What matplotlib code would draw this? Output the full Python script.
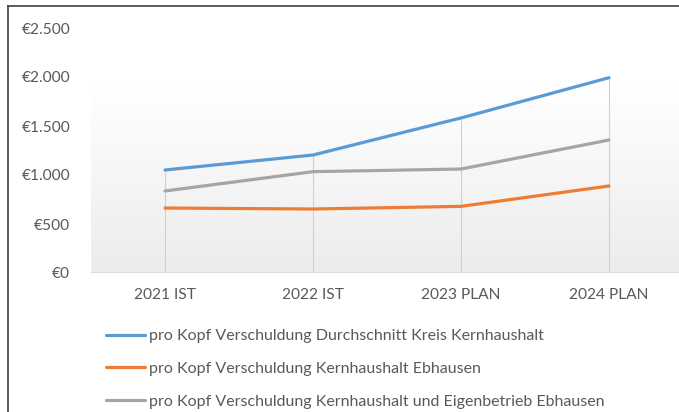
import matplotlib.pyplot as plt
import numpy as np
from matplotlib.lines import Line2D

categories = ['2021 IST', '2022 IST', '2023 PLAN', '2024 PLAN']
kreis = [1051, 1204, 1582, 1993]
kern_ebh = [663, 653, 680, 888]
kern_eigen_ebh = [837, 1034, 1061, 1357]
labels = ['pro Kopf Verschuldung Durchschnitt Kreis Kernhaushalt',
          'pro Kopf Verschuldung Kernhaushalt Ebhausen',
          'pro Kopf Verschuldung Kernhaushalt und Eigenbetrieb Ebhausen']
yticks = [0, 500, 1000, 1500, 2000, 2500]
ytick_labels = ['€0', '€500', '€1.000', '€1.500', '€2.000', '€2.500']

plt.rcParams['font.family'] = ['Lato', 'DejaVu Sans']
txt = '#595959'
fs = 11.2

fig = plt.figure(figsize=(6.79, 4.12), dpi=100)
ax = fig.add_axes([91 / 679, 139 / 412, 592 / 679, 245 / 412])
ax.set_xlim(-0.5, 3.5)
ax.set_ylim(0, 2500)
ax.patch.set_visible(False)
for s in ax.spines.values():
    s.set_visible(False)

# gradient plot area
grad = np.linspace(0, 1, 100).reshape(-1, 1)
ax.imshow(grad, cmap=plt.matplotlib.colors.LinearSegmentedColormap.from_list('g', ['#ffffff', '#ececec']),
          extent=(-0.5, 3.5, 0, 1918), aspect='auto', origin='upper', zorder=0)

x = np.arange(len(categories))
tops = np.max([kreis, kern_ebh, kern_eigen_ebh], axis=0)
ax.vlines(x, 0, tops, color='#d0d0d0', lw=0.8, zorder=1)
ax.axhline(0, color='#d9d9d9', lw=1.2, zorder=1)

colors = ['#5b9bd5', '#ed7d31', '#a5a5a5']
for vals, c, lab in zip([kreis, kern_ebh, kern_eigen_ebh], colors, labels):
    ax.plot(x, vals, color=c, lw=2.3, label=lab, zorder=3, solid_capstyle='round')

ax.set_xticks(x)
ax.set_xticklabels(categories, fontsize=fs, color=txt)
ax.set_yticks(yticks)
ax.set_yticklabels(ytick_labels, fontsize=fs, color=txt)
ax.tick_params(axis='both', length=0)
ax.tick_params(axis='y', pad=15)
ax.tick_params(axis='x', pad=10.5)

fig.legend(loc='upper left', bbox_to_anchor=(106 / 679, 1 - 329 / 412), frameon=False,
           fontsize=11.5, labelcolor=txt, handlelength=2.45, handletextpad=0.25,
           labelspacing=1.17, borderaxespad=0, borderpad=0)

# outer frame (left and top)
fig.add_artist(Line2D([8 / 679, 8 / 679], [0, 1 - 6 / 412], color='#404040', lw=1.2))
fig.add_artist(Line2D([8 / 679, 1], [1 - 6 / 412, 1 - 6 / 412], color='#404040', lw=1.2))

fig.savefig('out.png', dpi=100)
